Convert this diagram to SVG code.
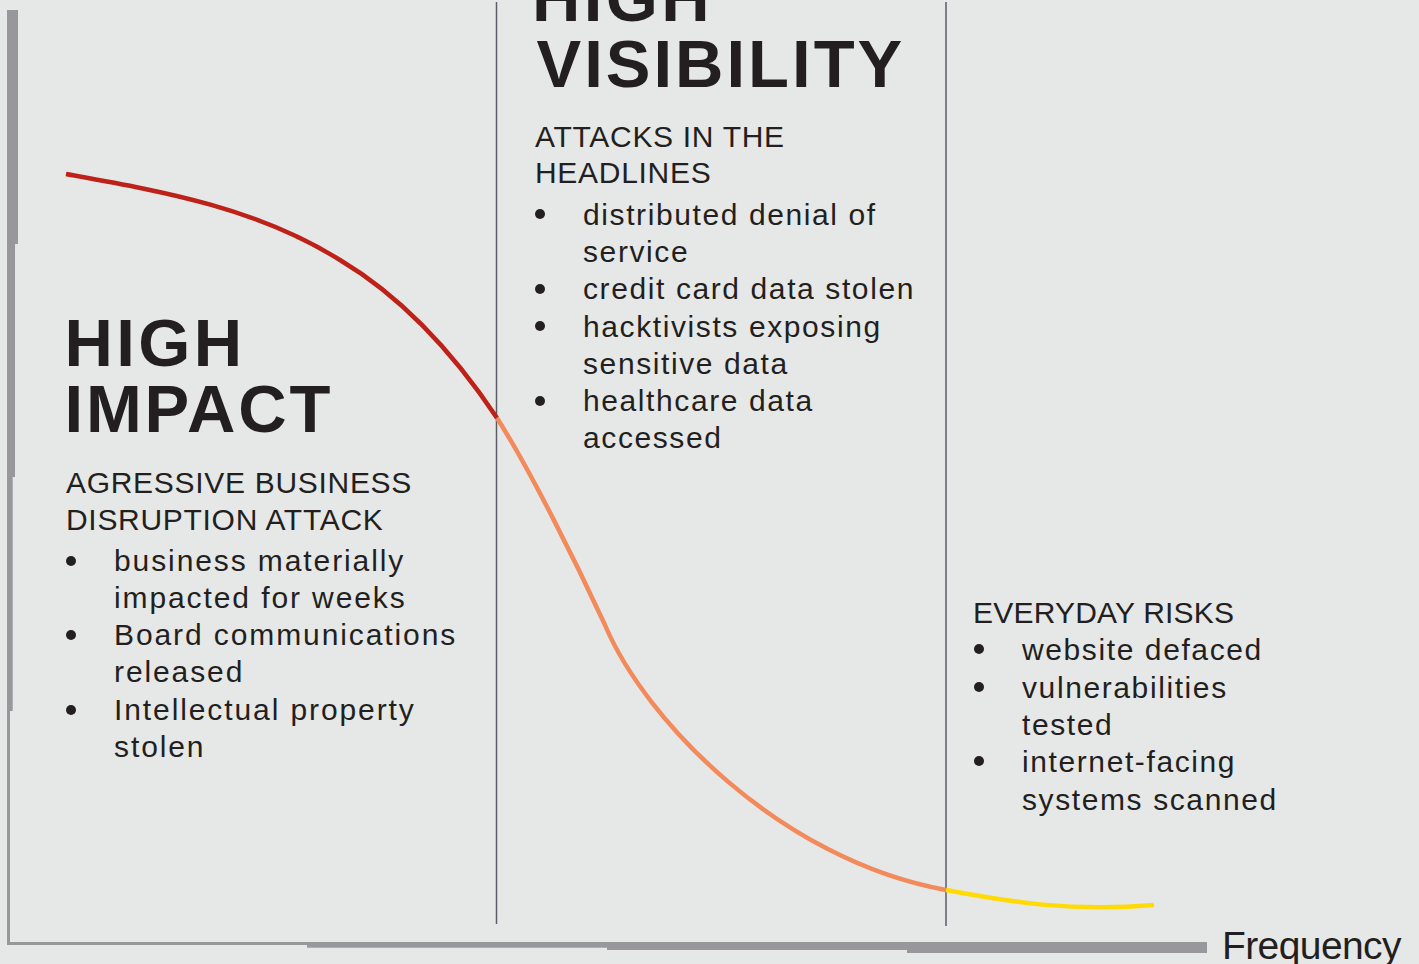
<svg xmlns="http://www.w3.org/2000/svg" width="1419" height="964" viewBox="0 0 1419 964">
  <style>
    .axis { fill: #98979c; }
    .divider { stroke: #5b5b69; stroke-width: 1.5; fill: none; }
    .curve { fill: none; stroke-width: 4.5; stroke-linecap: butt; }
    .title { font-family: "Liberation Sans", Arial, sans-serif; font-weight: bold; font-size: 67px; fill: #231f20; }
    .sub { font-family: "Liberation Sans", Arial, sans-serif; font-size: 30px; fill: #231f20; letter-spacing: 0.7px; }
    .item { font-family: "Liberation Sans", Arial, sans-serif; font-size: 30px; fill: #231f20; letter-spacing: 1.6px; }
    #high-impact .item { letter-spacing: 1.9px; }
    #everyday-risks .sub { letter-spacing: 0.2px; }
    .dot { fill: #231f20; }
    .axis-label { font-family: "Liberation Sans", Arial, sans-serif; font-size: 39px; fill: #231f20; letter-spacing: -0.6px; }
  </style>

  <rect width="1419" height="964" fill="#e6e8e7"/>

  <!-- stepped axes: thickness grows away from the origin -->
  <g id="axes">
    <rect class="axis" x="7" y="10" width="11" height="234"/>
    <rect class="axis" x="7" y="244" width="8" height="233"/>
    <rect class="axis" x="7" y="477" width="5.7" height="234"/>
    <rect class="axis" x="7" y="711" width="3" height="234"/>
    <rect class="axis" x="7" y="942" width="300" height="3"/>
    <rect class="axis" x="307" y="942" width="300" height="5.7"/>
    <rect class="axis" x="607" y="942" width="300" height="8"/>
    <rect class="axis" x="907" y="942" width="300" height="11"/>
  </g>

  <!-- zone separators -->
  <g id="dividers">
    <line class="divider" x1="496.5" y1="2" x2="496.5" y2="924"/>
    <line class="divider" x1="946" y1="2" x2="946" y2="926"/>
  </g>

  <!-- impact vs frequency curve, coloured per zone -->
  <g id="connectors">
    <path class="curve" stroke="#be2117" d="M66,174 C160,191 255,207 340,260 C392,291 445,340 497,418"/>
    <path class="curve" stroke="#f28a5b" d="M497,418 C530,470 575,560 605,625 C645,720 780,860 946,890"/>
    <path class="curve" stroke="#ffda05" stroke-width="5" d="M946,890 C1010,902 1070,912 1154,905"/>
  </g>

  <g id="high-impact">
    <text class="title" x="64.5" y="366" letter-spacing="3.4">HIGH</text>
    <text class="title" x="64.5" y="432" letter-spacing="2.8">IMPACT</text>
    <text class="sub" x="66" y="493">AGRESSIVE BUSINESS</text>
    <text class="sub" x="66" y="530">DISRUPTION ATTACK</text>
    <circle class="dot" cx="71" cy="561" r="5"/>
    <text class="item" x="114" y="571">business materially</text>
    <text class="item" x="114" y="608">impacted for weeks</text>
    <circle class="dot" cx="71" cy="635" r="5"/>
    <text class="item" x="114" y="645">Board communications</text>
    <text class="item" x="114" y="682">released</text>
    <circle class="dot" cx="71" cy="710" r="5"/>
    <text class="item" x="114" y="720">Intellectual property</text>
    <text class="item" x="114" y="757">stolen</text>
  </g>

  <g id="high-visibility">
    <text class="title" x="532" y="20.5" letter-spacing="3.4">HIGH</text>
    <text class="title" x="536.5" y="87" letter-spacing="3">VISIBILITY</text>
    <text class="sub" x="535" y="147">ATTACKS IN THE</text>
    <text class="sub" x="535" y="183">HEADLINES</text>
    <circle class="dot" cx="540" cy="214" r="5"/>
    <text class="item" x="583" y="225">distributed denial of</text>
    <text class="item" x="583" y="262">service</text>
    <circle class="dot" cx="540" cy="289" r="5"/>
    <text class="item" x="583" y="299">credit card data stolen</text>
    <circle class="dot" cx="540" cy="326" r="5"/>
    <text class="item" x="583" y="337">hacktivists exposing</text>
    <text class="item" x="583" y="374">sensitive data</text>
    <circle class="dot" cx="540" cy="401" r="5"/>
    <text class="item" x="583" y="411">healthcare data</text>
    <text class="item" x="583" y="448">accessed</text>
  </g>

  <g id="everyday-risks">
    <text class="sub" x="973" y="623">EVERYDAY RISKS</text>
    <circle class="dot" cx="979" cy="649" r="5"/>
    <text class="item" x="1022" y="660">website defaced</text>
    <circle class="dot" cx="979" cy="687" r="5"/>
    <text class="item" x="1022" y="698">vulnerabilities</text>
    <text class="item" x="1022" y="735">tested</text>
    <circle class="dot" cx="979" cy="761" r="5"/>
    <text class="item" x="1022" y="772">internet-facing</text>
    <text class="item" x="1022" y="810">systems scanned</text>
  </g>

  <g id="frequency-label">
    <text class="axis-label" x="1222" y="959">Frequency</text>
  </g>
</svg>
